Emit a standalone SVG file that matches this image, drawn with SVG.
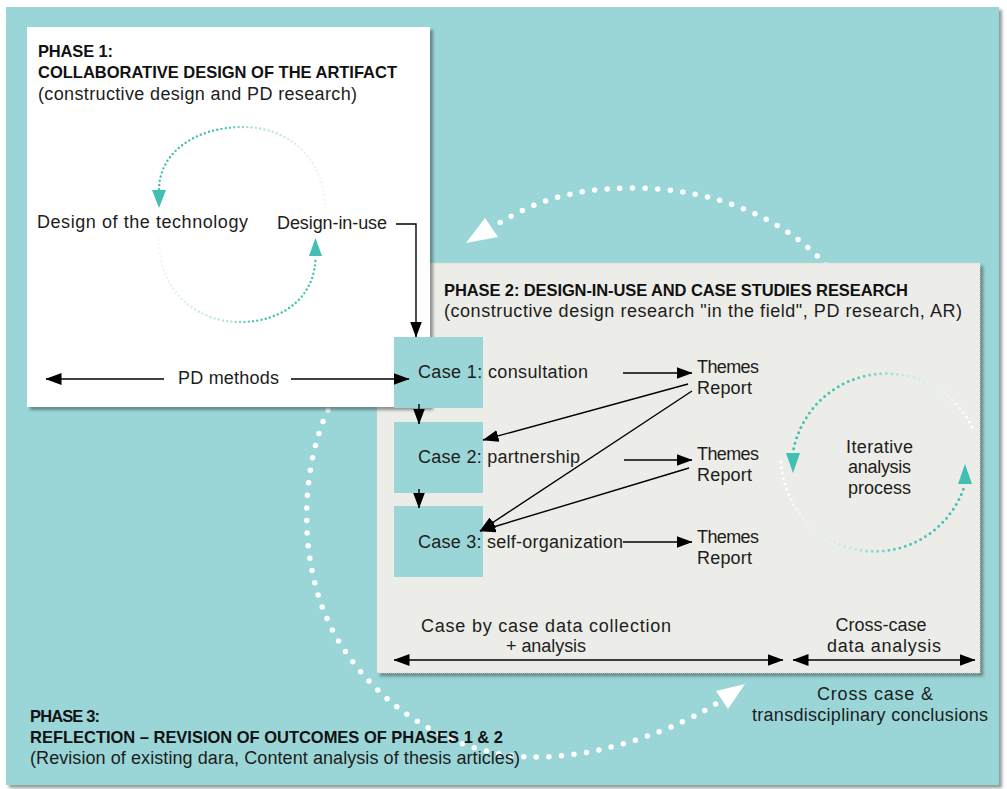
<svg xmlns="http://www.w3.org/2000/svg" width="1007" height="789" viewBox="0 0 1007 789">
  <style>
    .t { font-family: "Liberation Sans", Arial, sans-serif; font-size: 18px; fill: #1d1d1b; }
    .b { font-family: "Liberation Sans", Arial, sans-serif; font-size: 16.5px; font-weight: bold; fill: #111111; }
    .ln { fill: none; stroke: #000000; stroke-width: 1.4; }
    .big { fill: none; stroke: #ffffff; stroke-width: 5.5; stroke-linecap: round; stroke-dasharray: 0 12.6; }
    .cyc1 { fill: none; stroke-width: 2.4; stroke-linecap: round; stroke-dasharray: 0 4.3; }
    .cyc2 { fill: none; stroke-width: 3; stroke-linecap: round; stroke-dasharray: 0 5.6; }
    .tealhead { fill: #41bfb3; }
    .casebox { fill: #9ad6d8; }
  </style>
  <defs>
    <filter id="shadow" x="-5%" y="-5%" width="115%" height="115%">
      <feDropShadow dx="3" dy="3" stdDeviation="1.6" flood-color="#3a4a4a" flood-opacity="0.55"/>
    </filter>
    <marker id="arr" viewBox="0 0 16 12" refX="15.5" refY="6" markerWidth="16" markerHeight="12" markerUnits="userSpaceOnUse" orient="auto-start-reverse">
      <path d="M0 0L16 6L0 12z" fill="#000000"/>
    </marker>
    <!-- fading strokes for the small iteration cycles -->
    <linearGradient id="p1top" gradientUnits="userSpaceOnUse" x1="325" y1="0" x2="159" y2="0">
      <stop offset="0" stop-color="#eef8f7"/>
      <stop offset="0.45" stop-color="#a6ded9"/>
      <stop offset="0.62" stop-color="#41bfb3"/>
      <stop offset="1" stop-color="#41bfb3"/>
    </linearGradient>
    <linearGradient id="p1bot" gradientUnits="userSpaceOnUse" x1="159" y1="0" x2="316" y2="0">
      <stop offset="0" stop-color="#eef8f7"/>
      <stop offset="0.45" stop-color="#a6ded9"/>
      <stop offset="0.62" stop-color="#41bfb3"/>
      <stop offset="1" stop-color="#41bfb3"/>
    </linearGradient>
    <linearGradient id="p2top" gradientUnits="userSpaceOnUse" x1="972" y1="0" x2="793" y2="0">
      <stop offset="0" stop-color="#ffffff"/>
      <stop offset="0.4" stop-color="#bfe6e2"/>
      <stop offset="0.65" stop-color="#52c4b9"/>
      <stop offset="1" stop-color="#41bfb3"/>
    </linearGradient>
    <linearGradient id="p2bot" gradientUnits="userSpaceOnUse" x1="781" y1="0" x2="965" y2="0">
      <stop offset="0" stop-color="#ffffff"/>
      <stop offset="0.4" stop-color="#bfe6e2"/>
      <stop offset="0.65" stop-color="#52c4b9"/>
      <stop offset="1" stop-color="#41bfb3"/>
    </linearGradient>
  </defs>

  <!-- page and teal panel -->
  <rect x="0" y="0" width="1007" height="789" fill="#ffffff"/>
  <rect id="panel" x="6" y="7" width="993" height="778" fill="#9ad6d8" filter="url(#shadow)"/>

  <!-- large white reflection loop (phase 3) -->
  <g id="loop">
    <path class="big" d="M826 265 C780 215 710 188 633 188 C570 188 530 203 493 227"/>
    <polygon points="466,243 485,218 498,237" fill="#ffffff"/>
    <path class="big" d="M328 410 C300 470 296 570 338 640 C380 710 455 755 530 757 C600 759 680 728 720 701"/>
    <polygon points="745,684 728,709 716,691" fill="#ffffff"/>
  </g>

  <!-- phase 2 panel -->
  <g id="phase2">
    <rect x="377" y="263" width="603" height="410" fill="#ecece8" stroke="#d6d6d2" stroke-width="1" stroke-dasharray="1 1" filter="url(#shadow)"/>
    <text class="b" x="444" y="296" textLength="464">PHASE 2: DESIGN-IN-USE AND CASE STUDIES RESEARCH</text>
    <text class="t" x="444" y="317" textLength="518">(constructive design research "in the field", PD research, AR)</text>
  </g>

  <!-- phase 1 panel -->
  <g id="phase1">
    <rect x="27" y="27" width="403" height="380" fill="#ffffff" filter="url(#shadow)"/>
    <text class="b" x="38" y="57" textLength="75">PHASE 1:</text>
    <text class="b" x="38" y="78" textLength="359">COLLABORATIVE DESIGN OF THE ARTIFACT</text>
    <text class="t" x="38" y="100" textLength="319">(constructive design and PD research)</text>
    <path class="cyc1" stroke="url(#p1top)" d="M325 208 C325 160 290 127 243 127 C196 127 159 152 159 190"/>
    <polygon class="tealhead" points="152,190 166,190 159,208"/>
    <path class="cyc1" stroke="url(#p1bot)" d="M159 240 C159 290 195 322 240 322 C285 322 315.5 295 315.5 257"/>
    <polygon class="tealhead" points="309,256 322,256 315.5,238"/>
    <text class="t" x="37" y="228" textLength="211">Design of the technology</text>
    <text class="t" x="277" y="229" textLength="110">Design-in-use</text>
    <text class="t" x="178" y="384" textLength="101">PD methods</text>
  </g>

  <!-- case boxes -->
  <g id="case1">
    <rect class="casebox" x="394" y="337" width="89" height="71"/>
    <text class="t" x="418" y="378" textLength="170">Case 1: consultation</text>
  </g>
  <g id="case2">
    <rect class="casebox" x="394" y="422" width="89" height="71"/>
    <text class="t" x="418" y="463" textLength="162">Case 2: partnership</text>
  </g>
  <g id="case3">
    <rect class="casebox" x="394" y="506" width="89" height="71"/>
    <text class="t" x="418" y="548" textLength="205">Case 3: self-organization</text>
  </g>

  <!-- themes reports -->
  <g id="report1">
    <text class="t" x="697" y="373" textLength="62">Themes</text>
    <text class="t" x="697" y="394" textLength="55">Report</text>
  </g>
  <g id="report2">
    <text class="t" x="697" y="460" textLength="62">Themes</text>
    <text class="t" x="697" y="481" textLength="55">Report</text>
  </g>
  <g id="report3">
    <text class="t" x="697" y="543" textLength="62">Themes</text>
    <text class="t" x="697" y="564" textLength="55">Report</text>
  </g>

  <!-- iterative analysis cycle -->
  <g id="iterative">
    <path class="cyc2" stroke="url(#p2top)" d="M972 427 A95 95 0 0 0 793 452"/>
    <polygon class="tealhead" points="786,453 800,453 793,473"/>
    <path class="cyc2" stroke="url(#p2bot)" d="M781 462 A94 94 0 0 0 965 484"/>
    <polygon class="tealhead" points="958,484 972,484 965,464"/>
    <text class="t" x="846" y="453" textLength="67">Iterative</text>
    <text class="t" x="848" y="473" textLength="63">analysis</text>
    <text class="t" x="848" y="494" textLength="63">process</text>
  </g>

  <!-- analysis spans -->
  <g id="spans">
    <text class="t" x="421" y="632" textLength="250">Case by case data collection</text>
    <text class="t" x="506" y="652" textLength="80">+ analysis</text>
    <text class="t" x="881" y="631" text-anchor="middle" font-size="17">Cross-case</text>
    <text class="t" x="827" y="652" textLength="114">data analysis</text>
    <text class="t" x="817" y="700" textLength="116">Cross case &amp;</text>
    <text class="t" x="752" y="721" textLength="236">transdisciplinary conclusions</text>
  </g>

  <!-- phase 3 caption -->
  <g id="phase3">
    <text class="b" x="30" y="722" textLength="70">PHASE 3:</text>
    <text class="b" x="30" y="743" textLength="473">REFLECTION – REVISION OF OUTCOMES OF PHASES 1 &amp; 2</text>
    <text class="t" x="30" y="764" textLength="490">(Revision of existing dara, Content analysis of thesis articles)</text>
  </g>

  <!-- connectors -->
  <g id="connectors" class="ln">
    <path class="ln" d="M396 224 H416 V337" marker-end="url(#arr)"/>
    <path class="ln" d="M164 379 H46" marker-end="url(#arr)"/>
    <path class="ln" d="M291 379 H409" marker-end="url(#arr)"/>
    <path class="ln" d="M419 404 V424" marker-end="url(#arr)"/>
    <path class="ln" d="M419 489 V508" marker-end="url(#arr)"/>
    <path class="ln" d="M623 373 H692" marker-end="url(#arr)"/>
    <path class="ln" d="M624 460 H692" marker-end="url(#arr)"/>
    <path class="ln" d="M623 542 H692" marker-end="url(#arr)"/>
    <path class="ln" d="M688 384 L483 440" marker-end="url(#arr)"/>
    <path class="ln" d="M692 391 L480 531" marker-end="url(#arr)"/>
    <path class="ln" d="M689 468 L480 531" marker-end="url(#arr)"/>
    <path class="ln" d="M394 660 H783" marker-start="url(#arr)" marker-end="url(#arr)"/>
    <path class="ln" d="M793 660 H975" marker-start="url(#arr)" marker-end="url(#arr)"/>
  </g>
</svg>
